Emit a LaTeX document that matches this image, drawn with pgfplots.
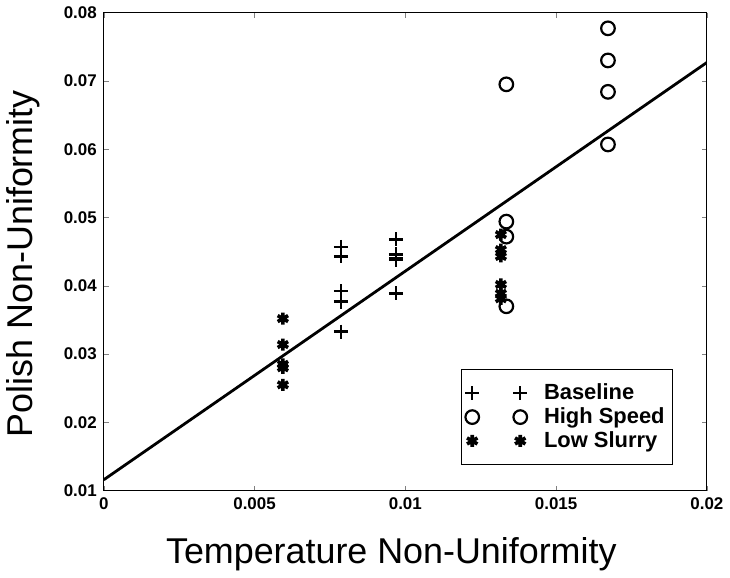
\documentclass[border=0pt]{standalone}
\usepackage{fontspec}
\setmainfont{Liberation Sans}
\usepackage{pgfplots}
\pgfplotsset{compat=1.18}

\pgfplotsset{
  twomarks/.style={
    legend image code/.code={%
      \draw[##1] plot[only marks] coordinates {(0bp,0bp) (24bp,0bp)};
      \path (33bp,0bp);}
  }
}

\begin{document}
\begin{tikzpicture}
\begin{axis}[
    scale only axis,
    width=301.5bp,
    height=239bp,
    xmin=0, xmax=0.02,
    ymin=0.01, ymax=0.08,
    xtick={0,0.005,0.01,0.015,0.02},
    xticklabels={0,0.005,0.01,0.015,0.02},
    ytick={0.01,0.02,0.03,0.04,0.05,0.06,0.07,0.08},
    yticklabels={0.01,0.02,0.03,0.04,0.05,0.06,0.07,0.08},
    scaled ticks=false,
    tick align=inside,
    major tick length=2.5bp,
    tick label style={font=\bfseries\fontsize{8.5}{9}\selectfont},
    /pgf/number format/assume math mode=true,
    xlabel={Temperature Non-Uniformity},
    ylabel={Polish Non-Uniformity},
    label style={font=\fontsize{18}{20}\selectfont},
    xlabel style={xshift=-7bp, yshift=-7bp},
    ylabel style={yshift=5bp, xshift=-6bp},
    legend style={
      at={(0.944,0.054)}, anchor=south east,
      draw=black, line width=0.5pt,
      font=\bfseries\fontsize{11}{12}\selectfont,
      row sep=-1.5pt,
      inner xsep=2bp, inner ysep=5bp,
      legend cell align=left,
    },
]

\addplot[black, line width=1.4pt, forget plot] coordinates {
    (0,0.0116) (0.02,0.0727)
};

\addplot[only marks, black, mark=+, mark size=3.5bp, line width=1.2pt, twomarks] coordinates {
    (0.00786,0.0457) (0.00786,0.0443) (0.00786,0.0392) (0.00786,0.0377) (0.00786,0.0333)
    (0.00969,0.0468) (0.00969,0.0446) (0.00969,0.0441) (0.00969,0.0438) (0.00969,0.0389)
};

\addplot[only marks, black, mark=o, mark size=3.4bp, line width=1.1pt, twomarks] coordinates {
    (0.01335,0.0695) (0.01335,0.0494) (0.01335,0.0472) (0.01335,0.0370)
    (0.01672,0.0777) (0.01672,0.0730) (0.01672,0.0684) (0.01672,0.0607)
};

\addplot[only marks, black, mark=asterisk, mark size=3bp, line width=1.8pt, twomarks] coordinates {
    (0.00594,0.0352) (0.00594,0.0314) (0.00594,0.0285) (0.00594,0.0280) (0.00594,0.0255)
    (0.01317,0.0475) (0.01317,0.0453) (0.01317,0.0443) (0.01317,0.0402) (0.01317,0.0389) (0.01317,0.0381)
};

\legend{Baseline, High Speed, Low Slurry}
\end{axis}
\end{tikzpicture}
\end{document}
